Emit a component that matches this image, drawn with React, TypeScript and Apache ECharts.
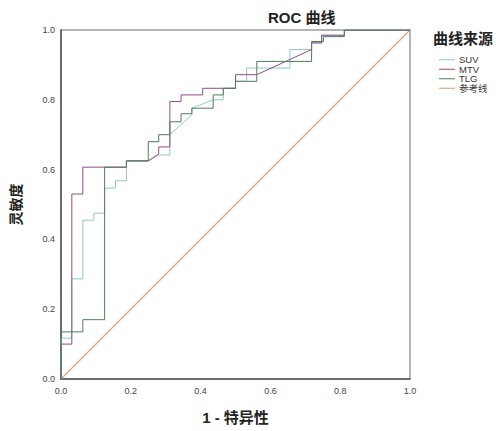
import React, { useEffect, useRef } from "react";
import * as echarts from "echarts";

const LEGEND_NAMES = ["SUV", "MTV", "TLG", "参考线"];
const X_TICKS = [0, 0.2, 0.4, 0.6, 0.8, 1.0];

const SUV_POINTS = [
  [0, 0], [0, 0.117], [0.031, 0.117], [0.031, 0.287], [0.0625, 0.287], [0.0625, 0.455],
  [0.094, 0.455], [0.094, 0.475], [0.125, 0.475], [0.125, 0.547], [0.156, 0.547],
  [0.156, 0.568], [0.1875, 0.568], [0.1875, 0.625], [0.25, 0.625], [0.28, 0.642],
  [0.312, 0.642], [0.312, 0.7], [0.375, 0.757], [0.375, 0.776], [0.436, 0.8],
  [0.465, 0.8], [0.465, 0.833], [0.5, 0.833], [0.5, 0.853], [0.532, 0.853],
  [0.532, 0.891], [0.656, 0.891], [0.656, 0.944], [0.718, 0.944], [0.718, 0.963],
  [0.747, 0.963], [0.747, 0.985], [0.812, 0.985], [0.812, 1], [1, 1],
];

const MTV_POINTS = [
  [0, 0], [0, 0.1], [0.031, 0.1], [0.031, 0.53], [0.0625, 0.53], [0.0625, 0.607],
  [0.1875, 0.607], [0.1875, 0.625], [0.25, 0.625], [0.28, 0.645], [0.28, 0.665],
  [0.312, 0.665], [0.312, 0.795], [0.344, 0.795], [0.344, 0.814], [0.406, 0.814],
  [0.406, 0.833], [0.5, 0.833], [0.5, 0.872], [0.561, 0.872], [0.718, 0.944],
  [0.718, 0.963], [0.747, 0.963], [0.747, 0.985], [0.812, 0.985], [0.812, 1], [1, 1],
];

const TLG_POINTS = [
  [0, 0], [0, 0.135], [0.0625, 0.135], [0.0625, 0.17], [0.125, 0.17], [0.125, 0.607],
  [0.1875, 0.607], [0.1875, 0.625], [0.25, 0.625], [0.25, 0.68], [0.28, 0.68],
  [0.28, 0.7], [0.312, 0.7], [0.312, 0.737], [0.344, 0.737], [0.344, 0.76],
  [0.375, 0.76], [0.375, 0.776], [0.436, 0.776], [0.436, 0.814], [0.465, 0.814],
  [0.465, 0.833], [0.5, 0.833], [0.5, 0.853], [0.561, 0.853], [0.561, 0.91],
  [0.718, 0.91], [0.718, 0.967], [0.752, 0.967], [0.752, 0.981], [0.812, 0.981],
  [0.812, 1], [1, 1],
];

const REF_POINTS = [
  [0, 0], [1, 1],
];

const COLORS = ["#92c6cc", "#8c4f86", "#4f7d56", "#e39a70"];
const FONT = "'Liberation Sans', Arial, 'Noto Sans CJK SC', sans-serif";

export default function App() {
  const ref = useRef<HTMLDivElement>(null);

  useEffect(() => {
    if (!ref.current) return;
    const chart = echarts.init(ref.current, null, { renderer: "svg" });
    const seriesData = [SUV_POINTS, MTV_POINTS, TLG_POINTS, REF_POINTS];
    const option = {
      animation: false,
      backgroundColor: "#ffffff",
      title: {
        text: "ROC 曲线",
        left: 268,
        top: 10,
        padding: 0,
        textStyle: { fontSize: 15, fontWeight: "bold", color: "#222", fontFamily: FONT },
      },
      legend: {
        data: LEGEND_NAMES,
        orient: "vertical",
        left: 439,
        top: 55,
        padding: 0,
        itemGap: 0,
        itemWidth: 16,
        itemHeight: 1,
        icon: "rect",
        textStyle: { fontSize: 9.5, color: "#333", fontFamily: FONT, lineHeight: 8.5, padding: [0, 0, 0, -1] },
      },
      graphic: [
        {
          type: "text",
          left: 433,
          top: 31,
          style: {
            text: "曲线来源",
            fontSize: 15,
            fontWeight: "bold",
            fill: "#222",
            fontFamily: FONT,
          },
        },
      ],
      grid: {
        left: 61,
        top: 30,
        width: 349,
        height: 349,
        show: true,
        borderColor: "#9a9a9a",
        borderWidth: 1.5,
        containLabel: false,
      },
      xAxis: {
        type: "value",
        min: 0,
        max: 1,
        interval: 0.2,
        name: "1 - 特异性",
        nameLocation: "middle",
        nameGap: 31,
        nameTextStyle: { fontSize: 15, fontWeight: "bold", color: "#222", fontFamily: FONT },
        axisLine: { show: true, lineStyle: { color: "#555", width: 1.5 } },
        axisTick: { show: false },
        splitLine: { show: false },
        axisLabel: {
          formatter: (v: number) => v.toFixed(1),
          fontSize: 9,
          color: "#444",
          margin: 7,
          fontFamily: FONT,
          customValues: X_TICKS,
        },
      },
      yAxis: {
        type: "value",
        min: 0,
        max: 1,
        interval: 0.2,
        name: "灵敏度",
        nameLocation: "middle",
        nameGap: 38,
        nameRotate: 90,
        nameTextStyle: { fontSize: 14, fontWeight: "bold", color: "#222", fontFamily: FONT },
        axisLine: { show: true, lineStyle: { color: "#555", width: 1.5 } },
        axisTick: { show: false },
        splitLine: { show: false },
        axisLabel: {
          formatter: (v: number) => v.toFixed(1),
          fontSize: 9,
          color: "#444",
          margin: 6,
          fontFamily: FONT,
        },
      },
      series: LEGEND_NAMES.map((name, i) => ({
        name,
        type: "line",
        data: seriesData[i],
        showSymbol: false,
        symbol: "none",
        itemStyle: { color: COLORS[i] },
        lineStyle: { color: COLORS[i], width: i === 3 ? 1.1 : 1 },
        z: i === 3 ? 3 : 4,
      })),
    };
    chart.setOption(option as any);
    return () => chart.dispose();
  }, []);

  return (
    <div
      ref={ref}
      style={{ position: "fixed", left: 0, top: 0, width: 496, height: 431 }}
    />
  );
}
